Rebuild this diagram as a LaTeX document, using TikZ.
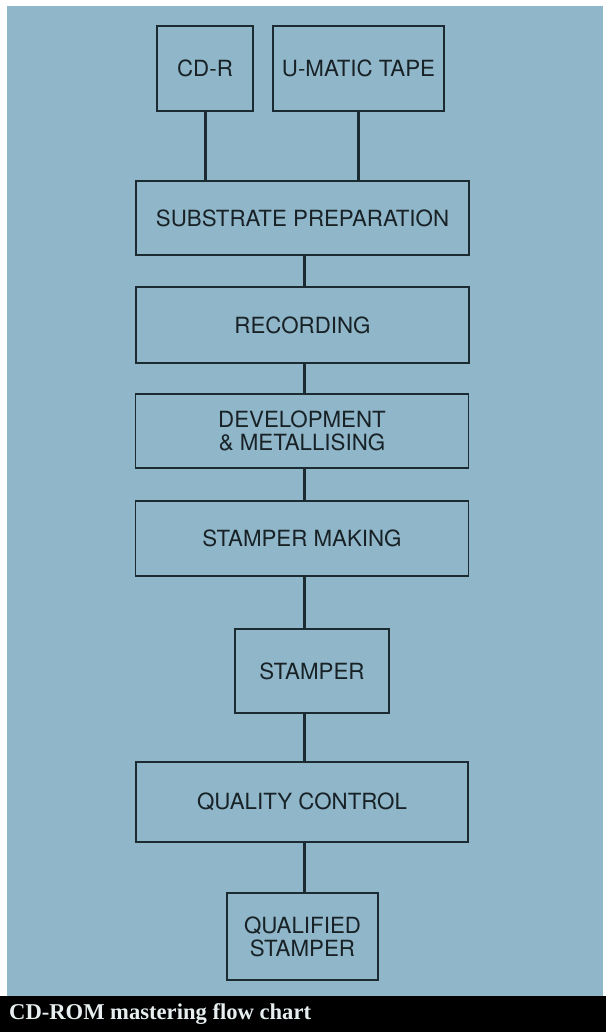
\documentclass[tikz,border=0pt]{standalone}
\usepackage{fontspec}
\setmainfont{Liberation Serif}
\newfontfamily\boxfont{TeX Gyre Heros}
\definecolor{bgblue}{HTML}{8FB6C9}
\definecolor{linec}{HTML}{1C2A32}
\definecolor{txtc}{HTML}{182226}
\definecolor{capc}{HTML}{E6EEF0}
\tikzset{
  fbox/.style={draw=linec, line width=1.4pt, fill=bgblue, inner sep=0pt, align=center,
    text=txtc, font=\boxfont\fontsize{22.3}{23}\selectfont},
  conn/.style={draw=linec, line width=3pt},
}
\begin{document}
\begin{tikzpicture}[x=1pt,y=-1pt]
\useasboundingbox (0,0) rectangle (606,1032);
\fill[white] (0,0) rectangle (606,1032);
\fill[bgblue] (7,6) rectangle (603,996);
\fill[black] (0,996) rectangle (606,1032);

\node[fbox, minimum width=96pt, minimum height=85pt] (cdr) at (205,68.5) {CD-R};
\node[fbox, minimum width=171pt, minimum height=85pt] (umt) at (358.5,68.5) {U-MATIC TAPE};
\node[fbox, minimum width=333pt, minimum height=74pt] (sub) at (302.5,218) {SUBSTRATE PREPARATION};
\node[fbox, minimum width=333pt, minimum height=76pt] (rec) at (302.5,325) {RECORDING};
\node[fbox, minimum width=333pt, minimum height=74pt] (dev) at (302,431) {DEVELOPMENT\\\& METALLISING};
\node[fbox, minimum width=333pt, minimum height=75pt] (smk) at (302,538.5) {STAMPER MAKING};
\node[fbox, minimum width=154pt, minimum height=84pt] (stp) at (312,671) {STAMPER};
\node[fbox, minimum width=332pt, minimum height=80pt] (qc) at (302,802) {QUALITY CONTROL};
\node[fbox, minimum width=151pt, minimum height=87pt] (qs) at (302.5,936.5) {QUALIFIED\\STAMPER};

\coordinate (sx) at (304.5,0);
\draw[conn] (cdr.south) -- (cdr.south |- sub.north);
\draw[conn] (umt.south) -- (umt.south |- sub.north);
\draw[conn] (sx |- sub.south) -- (sx |- rec.north);
\draw[conn] (sx |- rec.south) -- (sx |- dev.north);
\draw[conn] (sx |- dev.south) -- (sx |- smk.north);
\draw[conn] (sx |- smk.south) -- (sx |- stp.north);
\draw[conn] (sx |- stp.south) -- (sx |- qc.north);
\draw[conn] (sx |- qc.south) -- (sx |- qs.north);

\node[anchor=base west, inner sep=0pt, text=capc, font=\bfseries\fontsize{22.6}{24}\selectfont] (cap) at (9,1019) {CD-ROM mastering flow chart};
\end{tikzpicture}
\end{document}
